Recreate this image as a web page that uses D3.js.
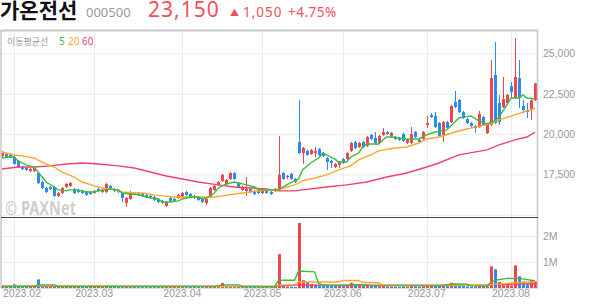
<!DOCTYPE html>
<html lang="ko">
<head>
<meta charset="UTF-8">
<title>가온전선 000500</title>
<script src="https://cdn.jsdelivr.net/npm/d3@7"></script>
<style>
  body { margin: 0; background: #fff; }
  svg { display: block; font-family: "Noto Sans", "Noto Sans CJK KR", sans-serif; }
  .axis text { fill: #999; font-size: 10.5px; }
  .grid line { stroke: #ececec; }
</style>
</head>
<body>
<svg id="chart" width="594" height="304"></svg>
<script>
// trading days: weekdays from 2023-01-27 to 2023-08-09, minus KRX holidays
const holidays = ["2023-03-01", "2023-05-01", "2023-05-05", "2023-05-29", "2023-06-06"];

// daily [open, high, low, close]
const candles = [
  [18640,18960,18580,18830],[18770,18830,18520,18580],[18710,18770,18520,18580],[18580,18650,18090,18150],
  [18340,18400,17900,17960],[17960,18030,17780,17840],[17900,17960,17720,17780],[17720,17900,17650,17840],
  [17720,17960,17650,17900],[17590,17650,16910,16970],[17030,17100,16600,16660],[16660,16720,16350,16410],
  [16720,16790,16540,16600],[16720,16790,16100,16170],[16170,16410,16100,16350],[16350,16720,16290,16660],
  [16720,16970,16660,16910],[16790,17030,16720,16970],[16600,16660,16290,16350],[16540,16600,16350,16410],
  [16480,16540,16290,16350],[16410,16480,16170,16230],[16410,16480,16230,16290],[16350,16540,16290,16480],
  [16600,16660,16410,16480],[16410,16600,16350,16540],[16410,16970,16350,16910],[16790,16850,16600,16660],
  [16600,16660,16410,16480],[16540,16600,16350,16410],[16350,16410,15790,16040],[15730,16100,15480,16040],
  [15980,16480,15920,16410],[16350,16410,16230,16290],[16350,16410,16170,16230],[16290,16350,16100,16170],
  [16230,16290,16040,16100],[16170,16230,15980,16040],[16100,16170,15860,15920],[15980,16040,15730,15790],
  [15860,15920,15670,15730],[15550,15860,15480,15790],[16040,16100,15790,15860],[15980,16040,15790,15860],
  [16040,16290,15980,16230],[16100,16410,16040,16350],[16410,16480,16170,16230],[16290,16350,16040,16100],
  [16170,16230,15980,16040],[16100,16170,15860,15920],[16040,16100,15730,15790],[15730,16040,15610,15980],
  [16100,16720,16040,16660],[16540,16850,16480,16790],[16850,17100,16790,17030],[17100,17530,17030,17470],
  [16910,17220,16850,17160],[17220,17650,17160,17590],[17590,17650,17160,17220],[16970,17030,16660,16720],
  [16540,16790,16480,16720],[16480,17340,16170,16600],[16600,16660,16350,16410],[16480,16540,16230,16290],
  [16480,16540,16290,16350],[16350,16660,16290,16600],[16540,16600,16290,16350],[16410,16480,16230,16290],
  [16480,16660,16410,16600],[16540,19890,16480,17470],[17590,17650,17160,17220],[17340,17470,17220,17410],
  [17530,17590,17160,17220],[17220,17280,16970,17030],[19510,22120,18770,18830],[18830,19200,18150,19140],
  [18960,19020,18650,18710],[18770,19080,18710,19020],[18830,19200,18580,18960],[19080,19140,18650,18710],
  [18830,18890,18580,18650],[18520,18580,17780,18270],[18340,18400,17900,18210],[17960,18210,17900,18150],
  [18090,18340,17900,18270],[18460,18520,18150,18210],[18460,18890,18400,18830],[18960,19510,18890,19450],
  [19510,19580,19080,19140],[19200,19510,19140,19450],[19510,19580,19140,19200],[19270,19890,19200,19820],
  [19950,20010,19640,19700],[19760,20130,19390,19450],[19450,19950,19390,19890],[19950,20380,19890,20130],
  [20130,20200,19950,20010],[19890,20130,19760,20070],[19820,19890,19640,19700],[19760,19820,19580,19640],
  [20010,20070,19510,19580],[19450,19700,19390,19640],[19450,20440,19390,20010],[20130,20200,19760,19820],
  [19640,19700,19450,19510],[19700,20200,19640,20130],[20570,21130,20380,20690],[21190,21310,21000,21060],
  [21130,21370,20380,20440],[20690,20750,19820,19890],[19950,20820,19510,20750],[20750,20820,20320,20380],
  [20750,21810,20690,21750],[21990,22680,21620,21680],[22120,22180,21310,21370],[21370,21440,20940,21000],
  [20940,21000,20630,20690],[20690,20750,20440,20510],[20510,20570,20070,20380],[20440,21440,20380,21250],
  [21060,21130,20510,20570],[20070,20630,20010,20570],[20570,24600,20510,23480],[23670,25710,20630,20690],
  [21930,22430,20570,20750],[21680,23540,21620,22180],[21930,22490,21870,22430],[22990,23230,22240,22610],
  [22240,25960,22180,23540],[23480,24600,21620,22240],[21750,22120,21310,21500],[21500,21930,21000,21370],
  [21500,22150,20880,22100],[22100,23170,22050,23150]
];

// daily volume, thousand shares
const volumes = [
  60,50,50,140,70,60,50,40,50,330,
  90,60,50,70,50,60,80,70,50,40,
  40,40,50,40,50,40,90,50,40,40,
  60,60,70,40,40,40,40,40,40,50,
  50,60,40,40,50,50,40,40,40,40,
  50,50,80,60,120,190,70,80,70,50,
  40,60,40,40,40,40,40,40,40,1300,
  120,60,50,40,2500,300,220,150,130,110,
  100,120,90,80,80,90,110,200,120,100,
  90,110,80,90,70,80,60,60,50,50,
  60,50,70,60,50,70,110,90,80,80,
  130,150,200,160,140,110,60,50,50,90,
  70,60,830,720,230,120,150,100,870,450,
  250,150,300,250
];

// moving averages: [day index, value]
const ma5 = [[0,18520],[2,18580],[3,18580],[4,18340],[6,18090],[8,17960],[9,17650],[10,17340],[11,17030],[13,16720],
  [14,16540],[16,16480],[17,16540],[19,16540],[21,16410],[23,16410],[24,16480],[27,16600],[29,16540],[30,16350],
  [32,16290],[34,16230],[36,16100],[39,15980],[40,15790],[42,15790],[44,15860],[45,15980],[47,16100],[49,16100],
  [50,15980],[51,16040],[53,16350],[54,16660],[56,16910],[58,17030],[59,16970],[61,16850],[63,16720],[64,16540],
  [69,16540],[70,16720],[72,16970],[74,17220],[75,17780],[77,18210],[79,18520],[80,18830],[81,18710],[83,18460],
  [84,18270],[86,18270],[87,18580],[89,18830],[90,19200],[91,19390],[94,19390],[95,19640],[96,19820],[98,19820],
  [99,19760],[101,19700],[104,19700],[106,19950],[108,20130],[111,20260],[113,20750],[114,21000],[117,21130],[119,20820],
  [121,20630],[123,20820],[124,21060],[126,21810],[127,22240],[129,22240],[130,22430],[131,22240],[133,22180]];
const ma20 = [[0,18890],[3,18710],[5,18650],[8,18520],[10,18270],[13,17960],[15,17650],[18,17340],[20,17030],[23,16790],
  [25,16660],[28,16540],[30,16410],[33,16350],[35,16350],[38,16230],[40,16170],[43,16100],[48,16100],[53,16100],
  [55,16170],[58,16290],[60,16350],[64,16480],[69,16570],[73,16850],[75,17100],[78,17280],[81,17470],[84,17780],
  [87,18030],[89,18400],[92,18710],[94,18960],[98,19140],[101,19200],[104,19450],[106,19700],[109,19820],[113,20130],
  [116,20320],[119,20500],[122,20630],[124,20880],[128,21190],[131,21440],[133,21620]];
const ma60 = [[0,17840],[4,17960],[8,17960],[12,18030],[16,18150],[20,18210],[24,18150],[29,18030],[33,17900],[37,17650],
  [41,17400],[45,17220],[49,17030],[54,16850],[58,16720],[62,16660],[66,16600],[69,16480],[73,16480],[75,16540],
  [81,16720],[86,16850],[91,17030],[96,17340],[101,17590],[106,17960],[109,18210],[114,18710],[121,19020],[124,19330],
  [128,19640],[131,19820],[133,20130]];

const volMa5 = [[0,60],[8,70],[9,120],[13,120],[14,60],[53,70],[54,90],[55,120],[59,120],[60,60],[68,50],[69,300],
  [73,300],[74,650],[78,620],[79,180],[80,130],[81,110],[86,100],[87,130],[91,120],[92,90],[110,80],[111,120],[112,160],
  [116,150],[117,80],[121,70],[122,220],[123,300],[126,370],[129,370],[133,280]];
const volMa20 = [[0,70],[9,80],[28,80],[30,60],[68,60],[69,120],[73,120],[74,230],[84,230],[85,290],[89,290],[90,210],
  [94,200],[95,100],[121,100],[122,130],[128,200],[133,230]];
const volMa60 = [[0,70],[68,60],[69,80],[74,110],[121,110],[122,130],[133,170]];

const priceTicks = [17500, 20000, 22500, 25000];
const volTicks = [1000, 2000];

const fmt = d3.timeFormat("%Y-%m-%d");
const dates = d3.timeDay.range(new Date(2023, 0, 27), new Date(2023, 7, 10))
  .filter(d => d.getDay() > 0 && d.getDay() < 6 && !holidays.includes(fmt(d)))
  .map(fmt);
const monthStarts = dates.filter((d, i) => i > 0 && d.slice(5, 7) !== dates[i - 1].slice(5, 7));

const red = "#f0444f", blue = "#2a8bf0";
const cGreen = "#3cbc3c", cOrange = "#ffa62b", cPink = "#f7406a";

const padLeft = 1, padRight = 538, padTop = 30, padMid = 217, padBottom = 288;

const svg = d3.select("#chart");

const x = d3.scaleBand().domain(dates).range([0, 537]);
const xc = d => x(d) + x.bandwidth() / 2;
const y = d3.scaleLinear().domain([14860, 26460]).range([padMid, padTop]);
const yv = d3.scaleLinear().domain([0, 2730]).range([padBottom, padMid]);

// gridlines
const grid = svg.append("g").attr("class", "grid");
grid.selectAll(".vg").data(monthStarts).enter().append("line")
  .attr("x1", d => Math.round(xc(d)) + 0.5).attr("x2", d => Math.round(xc(d)) + 0.5)
  .attr("y1", padTop).attr("y2", padBottom);
grid.append("g").attr("transform", `translate(${padRight},0)`)
  .call(d3.axisLeft(y).tickValues([15000].concat(priceTicks)).tickSize(padRight - padLeft).tickFormat(""))
  .call(g => g.select(".domain").remove())
  .call(g => g.selectAll("line").attr("stroke", "#ececec"));
grid.append("g").attr("transform", `translate(${padRight},0)`)
  .call(d3.axisLeft(yv).tickValues(volTicks).tickSize(padRight - padLeft).tickFormat(""))
  .call(g => g.select(".domain").remove())
  .call(g => g.selectAll("line").attr("stroke", "#ececec"));

// watermark
svg.append("text").attr("x", 5).attr("y", 215)
  .attr("font-size", 19).attr("font-weight", "bold").attr("fill", "#cfcfcf")
  .attr("textLength", 71).attr("lengthAdjust", "spacingAndGlyphs")
  .text("© PAXNet");

// candles
const cg = svg.append("g");
const bw = 3;
candles.forEach((c, i) => {
  const [o, h, l, cl] = c;
  const col = cl >= o ? red : blue;
  const cx = Math.round(xc(dates[i]));
  cg.append("line").attr("x1", cx + 0.5).attr("x2", cx + 0.5)
    .attr("y1", y(h)).attr("y2", y(l)).attr("stroke", col).attr("stroke-width", 1);
  const yt = y(Math.max(o, cl)), yb = y(Math.min(o, cl));
  cg.append("rect").attr("x", cx - 1).attr("width", bw)
    .attr("y", yt).attr("height", Math.max(1, yb - yt)).attr("fill", col);
});

// moving average lines
const maLine = d3.line().x(d => xc(dates[d[0]])).y(d => y(d[1]));
[[ma60, cPink], [ma20, cOrange], [ma5, cGreen]].forEach(([data, col]) => {
  svg.append("path").datum(data).attr("d", maLine)
    .attr("fill", "none").attr("stroke", col).attr("stroke-width", 1.4);
});

// volume bars
const vg = svg.append("g");
volumes.forEach((v, i) => {
  const c = candles[i];
  const prev = i > 0 ? candles[i - 1][3] : c[0];
  const col = c[3] >= prev ? red : blue;
  const cx = Math.round(xc(dates[i]));
  vg.append("rect").attr("x", cx - 1).attr("width", bw)
    .attr("y", yv(v)).attr("height", padBottom - yv(v)).attr("fill", col);
});
const volLine = d3.line().x(d => xc(dates[d[0]])).y(d => yv(d[1]));
[[volMa60, cPink], [volMa20, cOrange], [volMa5, cGreen]].forEach(([data, col]) => {
  svg.append("path").datum(data).attr("d", volLine)
    .attr("fill", "none").attr("stroke", col).attr("stroke-width", 1.4);
});

// frame
svg.append("line").attr("x1", padLeft).attr("x2", padRight).attr("y1", padTop + 0.5).attr("y2", padTop + 0.5)
  .attr("stroke", "#c8c8c8").attr("stroke-width", 2);
svg.append("line").attr("x1", padLeft).attr("x2", padLeft).attr("y1", padTop).attr("y2", padBottom)
  .attr("stroke", "#c8c8c8").attr("stroke-width", 1.5);
svg.append("line").attr("x1", padRight - 0.5).attr("x2", padRight - 0.5).attr("y1", padTop).attr("y2", padBottom)
  .attr("stroke", "#c8c8c8").attr("stroke-width", 1.5);
svg.append("line").attr("x1", padLeft).attr("x2", padRight).attr("y1", padMid + 0.5).attr("y2", padMid + 0.5)
  .attr("stroke", "#444");
svg.append("line").attr("x1", padLeft).attr("x2", padRight).attr("y1", padBottom + 0.5).attr("y2", padBottom + 0.5)
  .attr("stroke", "#ddd");

// axes
svg.append("g").attr("class", "axis").attr("transform", `translate(${padRight},0)`)
  .call(d3.axisRight(y).tickValues(priceTicks).tickSize(0).tickPadding(5).tickFormat(d3.format(",")))
  .call(g => g.select(".domain").remove());
svg.append("g").attr("class", "axis").attr("transform", `translate(${padRight},0)`)
  .call(d3.axisRight(yv).tickValues(volTicks).tickSize(0).tickPadding(5).tickFormat(d => d / 1000 + "M"))
  .call(g => g.select(".domain").remove());
const xa = svg.append("g").attr("class", "axis").attr("transform", `translate(0,${padBottom})`)
  .call(d3.axisBottom(x).tickValues(monthStarts).tickSize(0).tickPadding(2)
    .tickFormat(d => d.slice(0, 4) + "." + d.slice(5, 7)))
  .call(g => g.select(".domain").remove());
xa.selectAll(".tick").each(function(d) {
  const t = d3.select(this).select("text");
  const half = t.node().getComputedTextLength() / 2;
  const cx = xc(d);
  if (cx - half < 3) t.attr("x", 3 + half - cx);
});

// moving average legend
const lg = svg.append("text").attr("x", 7).attr("y", 44.5).attr("font-size", 10);
lg.append("tspan").attr("fill", "#999").attr("font-family", "Noto Sans CJK KR").attr("font-size", 9).text("이동평균선");
lg.append("tspan").attr("x", 59).attr("fill", cGreen).text("5");
lg.append("tspan").attr("x", 68).attr("fill", cOrange).text("20");
lg.append("tspan").attr("x", 82).attr("fill", cPink).text("60");

// header
svg.append("text").attr("x", 0).attr("y", 18).attr("font-family", "Noto Sans CJK KR")
  .attr("font-size", 21).attr("font-weight", "bold").attr("fill", "#111").text("가온전선");
svg.append("text").attr("x", 86).attr("y", 16.7).attr("font-size", 13).attr("fill", "#999").text("000500");
svg.append("text").attr("x", 148).attr("y", 16.7).attr("font-size", 21).attr("letter-spacing", 1)
  .attr("fill", "#f0505a").text("23,150");
svg.append("text").attr("x", 230).attr("y", 15.5).attr("font-size", 9).attr("fill", "#f0505a").text("▲");
svg.append("text").attr("x", 243).attr("y", 16.7).attr("font-size", 13.5).attr("letter-spacing", 1)
  .attr("fill", "#f0505a").text("1,050");
svg.append("text").attr("x", 288).attr("y", 16.7).attr("font-size", 13.5).attr("letter-spacing", 0.5)
  .attr("fill", "#f0505a").text("+4.75%");
</script>
</body>
</html>
